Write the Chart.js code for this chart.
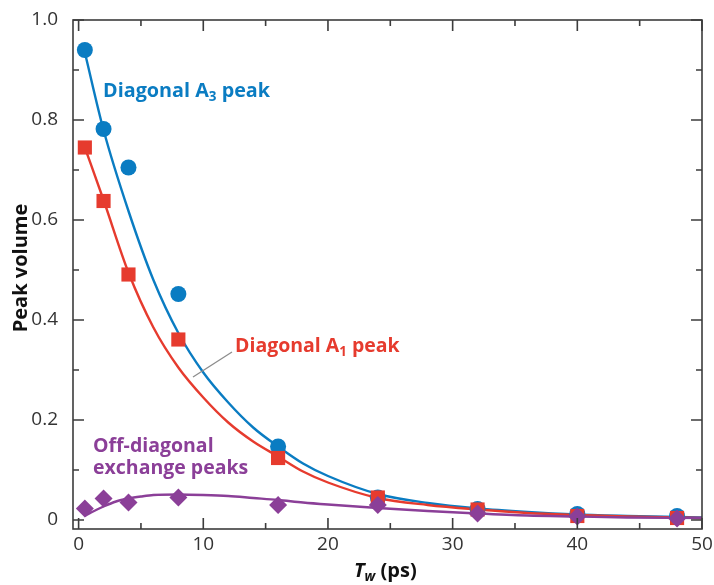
<!DOCTYPE html>
<html>
<head>
<meta charset="utf-8">
<script src="https://cdn.jsdelivr.net/npm/chart.js@4.4.0/dist/chart.umd.min.js"></script>
<style>
html, body { margin: 0; padding: 0; background: #fff; }
#wrap { width: 714px; height: 585px; }
</style>
</head>
<body>
<div id="wrap"><canvas id="chart" width="714" height="585"></canvas></div>
<script>
// measured points
const twPoints = [0.5, 2, 4, 8, 16, 24, 32, 40, 48]
const a3Values = [0.94, 0.782, 0.705, 0.452, 0.147, 0.045, 0.022, 0.012, 0.008]
const a1Values = [0.745, 0.638, 0.491, 0.361, 0.124, 0.045, 0.021, 0.008, 0.004]
const offValues = [0.023, 0.043, 0.035, 0.045, 0.030, 0.030, 0.013, 0.007, 0.003]

// fitted curves
const fitTw = [0.5, 2, 4, 6, 8, 10, 12, 14, 16, 18, 20, 24, 28, 32, 36, 40, 44, 50]
const a3Fit = [0.935, 0.78, 0.618, 0.48, 0.374, 0.295, 0.235, 0.185, 0.147, 0.113, 0.088, 0.052, 0.034, 0.023, 0.016, 0.011, 0.008, 0.005]
const a1Fit = [0.745, 0.64, 0.495, 0.385, 0.305, 0.245, 0.195, 0.157, 0.127, 0.097, 0.075, 0.044, 0.03, 0.021, 0.014, 0.01, 0.007, 0.004]
const offFitTw = [0.5, 1, 2, 3, 4, 5, 6, 8, 10, 12, 14, 16, 18, 20, 24, 28, 32, 36, 40, 44, 50]
const offFit = [0.008, 0.015, 0.027, 0.037, 0.043, 0.047, 0.05, 0.051, 0.05, 0.048, 0.044, 0.04, 0.035, 0.031, 0.024, 0.018, 0.013, 0.009, 0.007, 0.005, 0.004]

const xTicks = [0, 10, 20, 30, 40, 50]
const xMinor = [5, 15, 25, 35, 45]
const yTicks = [0, 0.2, 0.4, 0.6, 0.8, 1.0]
const yTickLabels = ['0', '0.2', '0.4', '0.6', '0.8', '1.0']
const yMinor = [0.1, 0.3, 0.5, 0.7, 0.9]

const BLUE = '#0a7cc2'
const RED = '#e63b2e'
const PURPLE = '#8b3f98'
const AXIS = '#3c3c3c'
const FONT = "'Open Sans', 'DejaVu Sans', sans-serif"

const pts = (xs, ys) => xs.map((x, i) => ({ x: x, y: ys[i] }))

// inner ticks, frame and the text labels
const framePlugin = {
    id: 'frame',
    afterDraw(chart) {
        const ctx = chart.ctx
        const a = chart.chartArea
        const xs = chart.scales.x
        const ys = chart.scales.y
        ctx.save()
        ctx.strokeStyle = AXIS
        ctx.lineWidth = 1.6
        ctx.strokeRect(a.left, a.top, a.right - a.left, a.bottom - a.top)
        ctx.beginPath()
        const tick = (vals, len) => {
            vals.forEach(v => {
                const px = xs.getPixelForValue(v)
                ctx.moveTo(px, a.bottom); ctx.lineTo(px, a.bottom - len)
                ctx.moveTo(px, a.top); ctx.lineTo(px, a.top + len)
            })
        }
        const tickY = (vals, len) => {
            vals.forEach(v => {
                const py = ys.getPixelForValue(v)
                ctx.moveTo(a.left, py); ctx.lineTo(a.left + len, py)
                ctx.moveTo(a.right, py); ctx.lineTo(a.right - len, py)
            })
        }
        tick(xTicks, 11)
        tick(xMinor, 6)
        tickY(yTicks, 11)
        tickY(yMinor, 6)
        ctx.stroke()

        // pointer line for A1 label
        ctx.strokeStyle = '#8c8c8c'
        ctx.lineWidth = 1.3
        ctx.beginPath()
        ctx.moveTo(232, 352)
        ctx.lineTo(193, 377)
        ctx.stroke()

        const rich = (parts, x, y, size, color) => {
            ctx.fillStyle = color
            ctx.textBaseline = 'alphabetic'
            ctx.textAlign = 'left'
            parts.forEach(p => {
                const s = p.sub ? size * 0.68 : size
                ctx.font = (p.italic ? 'italic ' : '') + 'bold ' + s + 'px ' + FONT
                ctx.fillText(p.t, x, y + (p.sub ? size * 0.22 : 0))
                x += ctx.measureText(p.t).width
            })
        }
        rich([{ t: 'Diagonal A' }, { t: '3', sub: true }, { t: ' peak' }], 103, 97, 19.8, BLUE)
        rich([{ t: 'Diagonal A' }, { t: '1', sub: true }, { t: ' peak' }], 235, 352, 19.5, RED)
        rich([{ t: 'Off-diagonal' }], 93, 452, 19.5, PURPLE)
        rich([{ t: 'exchange peaks' }], 93, 474, 19.5, PURPLE)

        // axis titles
        rich([{ t: 'T', italic: true }, { t: 'w', italic: true, sub: true }, { t: ' (ps)' }], 354, 577, 20, '#111')
        ctx.save()
        ctx.translate(27, 268)
        ctx.rotate(-Math.PI / 2)
        ctx.font = 'bold 20px ' + FONT
        ctx.fillStyle = '#111'
        ctx.textAlign = 'center'
        ctx.fillText('Peak volume', 0, 0)
        ctx.restore()
        ctx.restore()
    }
}

new Chart(document.getElementById('chart'), {
    type: 'scatter',
    data: {
        datasets: [
            { label: 'off pts', data: pts(twPoints, offValues), pointStyle: 'rectRot', pointRadius: 9, backgroundColor: PURPLE, borderColor: PURPLE, borderWidth: 0 },
            { label: 'a1 pts', data: pts(twPoints, a1Values), pointStyle: 'rect', pointRadius: 10, backgroundColor: RED, borderColor: RED, borderWidth: 0 },
            { label: 'a3 pts', data: pts(twPoints, a3Values), pointStyle: 'circle', pointRadius: 8, backgroundColor: BLUE, borderColor: BLUE, borderWidth: 0 },
            { label: 'off fit', data: pts(offFitTw, offFit), showLine: true, pointRadius: 0, borderColor: PURPLE, borderWidth: 2.4, cubicInterpolationMode: 'monotone' },
            { label: 'a1 fit', data: pts(fitTw, a1Fit), showLine: true, pointRadius: 0, borderColor: RED, borderWidth: 2.4, cubicInterpolationMode: 'monotone' },
            { label: 'a3 fit', data: pts(fitTw, a3Fit), showLine: true, pointRadius: 0, borderColor: BLUE, borderWidth: 2.4, cubicInterpolationMode: 'monotone' },
        ]
    },
    options: {
        responsive: false,
        animation: false,
        layout: { padding: { top: 20, right: 12, left: 0, bottom: 0 } },
        plugins: {
            legend: { display: false },
            tooltip: { enabled: false }
        },
        scales: {
            x: {
                type: 'linear',
                min: -0.45,
                max: 50,
                grid: { display: false },
                border: { display: false },
                afterBuildTicks: scale => { scale.ticks = xTicks.map(v => ({ value: v })) },
                afterFit: scale => { scale.height = 56 },
                ticks: { color: '#333', padding: -4, font: { family: FONT, size: 19 }, maxRotation: 0 }
            },
            y: {
                type: 'linear',
                min: -0.018,
                max: 1.0,
                grid: { display: false },
                border: { display: false },
                afterBuildTicks: scale => { scale.ticks = yTicks.map(v => ({ value: v })) },
                afterFit: scale => { scale.width = 73 },
                ticks: {
                    color: '#333', padding: 7, font: { family: FONT, size: 19 },
                    callback: (v, i) => yTickLabels[i]
                }
            }
        }
    },
    plugins: [framePlugin]
})
</script>
</body>
</html>
